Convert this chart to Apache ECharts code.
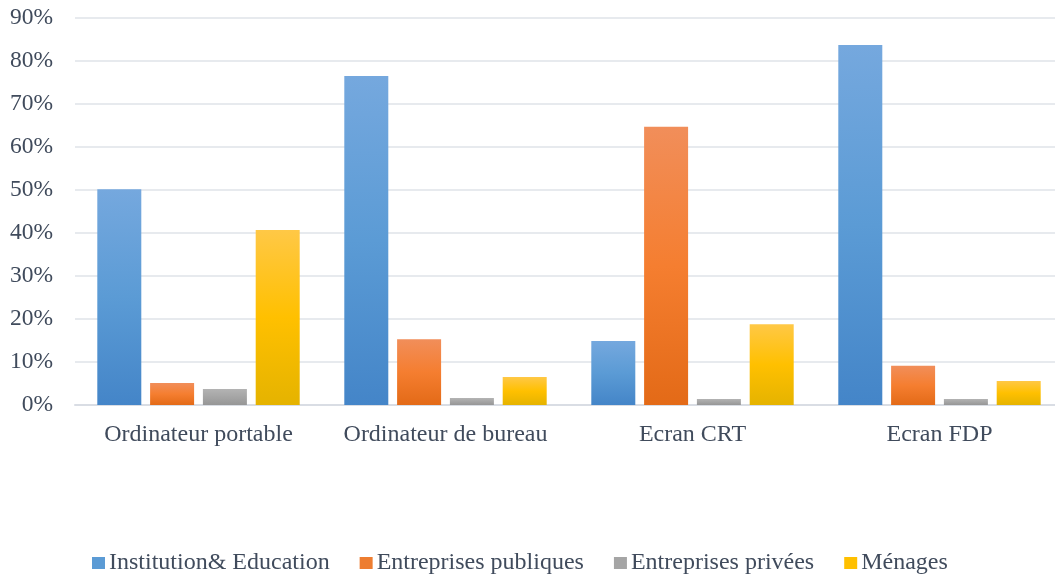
<!DOCTYPE html>
<html><head><meta charset="utf-8">
<script src="https://cdn.jsdelivr.net/npm/echarts@6/dist/echarts.min.js"></script>
<style>html,body{margin:0;padding:0;background:#fff;overflow:hidden}#c{width:1063px;height:577px}</style>
</head><body><div id="c"></div>
<script>
const categories = ['Ordinateur portable', 'Ordinateur de bureau', 'Ecran CRT', 'Ecran FDP'];
const seriesNames = ['Institution& Education', 'Entreprises publiques', 'Entreprises privées', 'Ménages'];
const institution = [50.2, 76.5, 14.9, 83.7];
const publiques = [5.1, 15.3, 64.7, 9.1];
const privees = [3.7, 1.6, 1.4, 1.4];
const menages = [40.7, 6.5, 18.8, 5.6];
const yTicks = [0, 10, 20, 30, 40, 50, 60, 70, 80, 90];

const grads = [
  ['#75a8de', '#5b9bd5', '#4485c8'],
  ['#f18e5a', '#f57e30', '#e36a17'],
  ['#b3b3b3', '#a5a5a5', '#969696'],
  ['#ffc846', '#ffc000', '#e5b300']
];
const legendColors = ['#5b9bd5', '#ed7d31', '#a5a5a5', '#ffc000'];
function grad(c) {
  return new echarts.graphic.LinearGradient(0, 0, 0, 1, [
    {offset: 0, color: c[0]}, {offset: 0.5, color: c[1]}, {offset: 1, color: c[2]}
  ]);
}
const dataSets = [institution, publiques, privees, menages];
const font = "'Liberation Serif', 'Times New Roman', serif";
const txt = '#404b5c';

const chart = echarts.init(document.getElementById('c'), null, {renderer: 'canvas'});
chart.setOption({
  animation: false,
  textStyle: {fontFamily: font},
  grid: {left: 75, top: 18, right: 0, bottom: 172, containLabel: false},
  legend: {
    top: 551, left: 92, padding: 0,
    itemWidth: 13, itemHeight: 12, itemGap: 30,
    icon: 'rect',
    textStyle: {fontFamily: font, fontSize: 24, color: txt, padding: [0, 0, 0, -1]},
    data: seriesNames.map((n, i) => ({name: n, itemStyle: {color: legendColors[i]}}))
  },
  xAxis: {
    type: 'category', data: categories,
    axisLine: {lineStyle: {color: '#d9dde4', width: 2}},
    axisTick: {show: false},
    axisLabel: {fontFamily: font, fontSize: 24, color: txt, margin: 18, interval: 0}
  },
  yAxis: {
    type: 'value', min: yTicks[0], max: yTicks[yTicks.length - 1], interval: 10,
    axisLine: {show: false}, axisTick: {show: false},
    axisLabel: {fontFamily: font, fontSize: 23.5, color: txt, margin: 22, formatter: v => v + '%'},
    splitLine: {lineStyle: {color: '#dfe3e9', width: 1.5}}
  },
  series: dataSets.map((d, i) => ({
    name: seriesNames[i], type: 'bar', data: d,
    barWidth: 44, barGap: '20%', barCategoryGap: '17.8%',
    itemStyle: {color: grad(grads[i])}
  }))
});
</script></body></html>
